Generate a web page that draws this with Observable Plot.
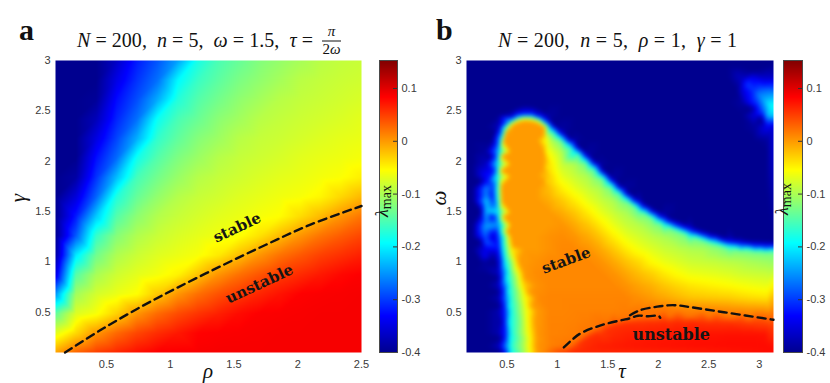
<!DOCTYPE html>
<html><head><meta charset="utf-8">
<script src="https://cdn.jsdelivr.net/npm/d3@7"></script>
<script src="https://cdn.jsdelivr.net/npm/@observablehq/plot@0.6"></script>
<style>
html,body{margin:0;padding:0;background:#fff;}
#chart{position:relative;width:830px;height:383px;overflow:hidden;background:#fff;}
</style></head><body><div id="chart"></div>
<script>
// ---------- data ----------
const rhoTicks = [0.5, 1, 1.5, 2, 2.5];
const gammaTicks = [0.5, 1, 1.5, 2, 2.5, 3];
const tauTicks = [0.5, 1, 1.5, 2, 2.5, 3];
const omegaTicks = [0.5, 1, 1.5, 2, 2.5, 3];
const cbTicks = [-0.4, -0.3, -0.2, -0.1, 0, 0.1];
const cbRange = [-0.4, 0.153];
const rhoRange = [0.1, 2.5];
const gammaRange = [0.1, 3];
const tauRange = [0.1, Math.PI];
const omegaRange = [0.1, 3];

// panel a: lambda_max read on a 16x16 lattice spanning the axes; rows gamma 3 -> 0.1, columns rho 0.1 -> 2.5
const lambdaA = [
  [-0.40,-0.40,-0.40,-0.366,-0.317,-0.285,-0.243,-0.179,-0.152,-0.137,-0.122,-0.112,-0.102,-0.092,-0.087,-0.084],
  [-0.40,-0.40,-0.40,-0.346,-0.304,-0.270,-0.196,-0.161,-0.142,-0.126,-0.114,-0.103,-0.092,-0.087,-0.083,-0.080],
  [-0.40,-0.40,-0.394,-0.326,-0.289,-0.238,-0.174,-0.147,-0.130,-0.115,-0.104,-0.093,-0.087,-0.083,-0.079,-0.075],
  [-0.40,-0.40,-0.374,-0.312,-0.270,-0.188,-0.153,-0.135,-0.117,-0.105,-0.093,-0.087,-0.082,-0.078,-0.074,-0.069],
  [-0.40,-0.40,-0.349,-0.294,-0.236,-0.166,-0.140,-0.120,-0.107,-0.093,-0.086,-0.082,-0.077,-0.072,-0.068,-0.065],
  [-0.40,-0.40,-0.324,-0.273,-0.184,-0.147,-0.124,-0.108,-0.094,-0.086,-0.081,-0.076,-0.070,-0.066,-0.063,-0.059],
  [-0.40,-0.387,-0.304,-0.228,-0.155,-0.130,-0.110,-0.094,-0.086,-0.080,-0.074,-0.069,-0.065,-0.060,-0.056,-0.046],
  [-0.40,-0.353,-0.276,-0.175,-0.137,-0.113,-0.095,-0.085,-0.079,-0.072,-0.067,-0.062,-0.058,-0.050,-0.033,-0.016],
  [-0.40,-0.318,-0.221,-0.147,-0.116,-0.096,-0.085,-0.077,-0.070,-0.065,-0.059,-0.054,-0.036,-0.017,0.003,0.020],
  [-0.40,-0.283,-0.164,-0.120,-0.097,-0.084,-0.075,-0.068,-0.062,-0.056,-0.039,-0.018,0.003,0.021,0.034,0.046],
  [-0.39,-0.204,-0.131,-0.098,-0.083,-0.072,-0.065,-0.058,-0.043,-0.020,0.003,0.022,0.036,0.049,0.058,0.067],
  [-0.35,-0.146,-0.101,-0.081,-0.069,-0.060,-0.048,-0.022,0.004,0.023,0.038,0.052,0.061,0.071,0.080,0.085],
  [-0.25,-0.105,-0.078,-0.065,-0.054,-0.025,0.003,0.024,0.040,0.053,0.064,0.074,0.084,0.086,0.087,0.088],
  [-0.14,-0.073,-0.058,-0.030,0.003,0.026,0.043,0.056,0.067,0.078,0.085,0.086,0.087,0.088,0.088,0.088],
  [-0.07,-0.034,0.002,0.027,0.046,0.060,0.071,0.083,0.085,0.086,0.087,0.088,0.088,0.088,0.088,0.088],
  [-0.005,0.029,0.050,0.063,0.076,0.085,0.086,0.087,0.088,0.088,0.088,0.088,0.088,0.088,0.088,0.088]
];

// panel b: lambda_max on a 24x24 grid of cell centres; rows omega 3 -> 0.1, columns tau 0.1 -> pi
const lambdaB = [
  [-.40,-.40,-.40,-.40,-.40,-.40,-.40,-.40,-.40,-.40,-.40,-.40,-.40,-.40,-.40,-.40,-.40,-.40,-.40,-.40,-.40,-.40,-.40,-.40],
  [-.40,-.40,-.40,-.40,-.40,-.40,-.40,-.40,-.40,-.40,-.40,-.40,-.40,-.40,-.40,-.40,-.40,-.40,-.40,-.40,-.40,-.37,-.34,-.36],
  [-.40,-.40,-.40,-.40,-.40,-.40,-.40,-.40,-.40,-.40,-.40,-.40,-.40,-.40,-.40,-.40,-.40,-.40,-.40,-.40,-.40,-.36,-.30,-.27],
  [-.40,-.40,-.40,-.40,-.40,-.40,-.40,-.40,-.40,-.40,-.40,-.40,-.40,-.40,-.40,-.40,-.40,-.40,-.40,-.40,-.40,-.39,-.31,-.21],
  [-.40,-.40,-.40,-.37,-.28,-.35,-.39,-.40,-.40,-.40,-.40,-.40,-.40,-.40,-.40,-.40,-.40,-.40,-.40,-.40,-.40,-.40,-.35,-.23],
  [-.40,-.40,-.37,-.01,.00,.00,-.22,-.39,-.40,-.40,-.40,-.40,-.40,-.40,-.40,-.40,-.40,-.40,-.40,-.40,-.40,-.40,-.39,-.34],
  [-.40,-.40,-.27,.00,.00,.00,-.09,-.22,-.39,-.40,-.40,-.40,-.40,-.40,-.40,-.40,-.40,-.40,-.40,-.40,-.40,-.40,-.40,-.39],
  [-.40,-.39,-.23,.00,.00,.00,-.06,-.10,-.20,-.39,-.40,-.40,-.40,-.40,-.40,-.40,-.40,-.40,-.40,-.40,-.40,-.40,-.40,-.40],
  [-.40,-.37,-.19,.00,.00,.00,-.04,-.086,-.10,-.19,-.39,-.40,-.40,-.40,-.40,-.40,-.40,-.40,-.40,-.40,-.40,-.40,-.40,-.40],
  [-.40,-.33,-.165,.00,.00,.00,-.03,-.068,-.085,-.10,-.19,-.39,-.40,-.40,-.40,-.40,-.40,-.40,-.40,-.40,-.40,-.40,-.40,-.40],
  [-.40,-.26,-.15,.00,.00,.00,-.02,-.047,-.067,-.084,-.10,-.19,-.39,-.40,-.40,-.40,-.40,-.40,-.40,-.40,-.40,-.40,-.40,-.40],
  [-.40,-.22,-.17,.00,.00,.00,-.01,-.026,-.045,-.066,-.084,-.10,-.18,-.37,-.40,-.40,-.40,-.40,-.40,-.40,-.40,-.40,-.40,-.40],
  [-.40,-.23,-.20,.00,.00,.00,.00,-.01,-.025,-.044,-.066,-.084,-.10,-.14,-.31,-.39,-.40,-.40,-.40,-.40,-.40,-.40,-.40,-.40],
  [-.40,-.25,-.25,.00,.00,.00,.00,.003,-.009,-.024,-.044,-.066,-.084,-.095,-.115,-.19,-.32,-.38,-.40,-.40,-.40,-.40,-.40,-.40],
  [-.40,-.28,-.30,.00,.00,.00,.005,.008,.003,-.008,-.024,-.045,-.065,-.078,-.09,-.10,-.115,-.17,-.25,-.34,-.38,-.40,-.40,-.40],
  [-.40,-.34,-.33,-.05,.00,.00,.005,.01,.01,.004,-.008,-.025,-.044,-.06,-.072,-.083,-.09,-.097,-.10,-.115,-.15,-.21,-.23,-.25],
  [-.40,-.39,-.36,-.11,.00,.005,.01,.01,.01,.01,.004,-.008,-.023,-.036,-.054,-.066,-.074,-.082,-.085,-.088,-.093,-.097,-.103,-.108],
  [-.40,-.40,-.37,-.14,.00,.008,.01,.01,.01,.01,.01,.004,-.007,-.019,-.03,-.044,-.055,-.064,-.067,-.07,-.074,-.08,-.083,-.085],
  [-.40,-.40,-.37,-.16,-.03,.005,.01,.01,.01,.01,.01,.01,.004,-.005,-.013,-.024,-.033,-.041,-.045,-.049,-.053,-.058,-.062,-.065],
  [-.40,-.40,-.38,-.17,-.064,.008,.012,.012,.012,.012,.012,.012,.012,.006,.00,-.007,-.015,-.022,-.024,-.026,-.028,-.033,-.037,-.04],
  [-.40,-.40,-.38,-.18,-.08,.00,.012,.012,.013,.013,.013,.013,.015,.018,.02,.02,.015,.012,.012,.01,.008,.006,.005,.004],
  [-.40,-.40,-.38,-.18,-.085,.00,.013,.013,.014,.016,.02,.035,.05,.055,.058,.06,.062,.063,.058,.057,.055,.052,.048,.045],
  [-.40,-.40,-.38,-.18,-.09,.002,.013,.014,.016,.035,.055,.062,.066,.068,.07,.071,.072,.073,.074,.074,.075,.075,.075,.074],
  [-.40,-.40,-.37,-.17,-.095,.003,.013,.018,.045,.062,.068,.07,.072,.073,.074,.075,.076,.077,.078,.078,.079,.079,.079,.078]
];

// panel b: extra readings [tau, omega, lambda] along sharp features
const rimB = [
  [0.95,2.39,-.40],[0.95,2.345,-.33],[0.95,2.31,-.21],[0.95,2.275,-.13],
  [1.03,2.32,-.40],[1.03,2.275,-.33],[1.03,2.24,-.21],[1.03,2.205,-.13],
  [1.12,2.24,-.40],[1.12,2.195,-.33],[1.12,2.16,-.21],[1.12,2.125,-.13],
  [1.20,2.17,-.40],[1.20,2.125,-.33],[1.20,2.09,-.21],[1.20,2.055,-.13],
  [1.28,2.095,-.40],[1.28,2.05,-.33],[1.28,2.015,-.21],[1.28,1.98,-.13],
  [1.36,2.02,-.40],[1.36,1.975,-.33],[1.36,1.94,-.21],[1.36,1.905,-.13],
  [1.44,1.94,-.40],[1.44,1.895,-.33],[1.44,1.86,-.21],[1.44,1.825,-.13],
  [1.53,1.855,-.40],[1.53,1.81,-.33],[1.53,1.775,-.21],[1.53,1.74,-.13],
  [1.61,1.78,-.40],[1.61,1.735,-.33],[1.61,1.70,-.21],[1.61,1.665,-.13],
  [1.69,1.71,-.40],[1.69,1.665,-.33],[1.69,1.63,-.21],[1.69,1.595,-.13],
  [1.77,1.65,-.40],[1.77,1.605,-.33],[1.77,1.57,-.21],[1.77,1.535,-.13],
  [1.86,1.59,-.40],[1.86,1.545,-.33],[1.86,1.51,-.21],[1.86,1.475,-.13],
  [1.94,1.54,-.40],[1.94,1.495,-.33],[1.94,1.46,-.21],[1.94,1.425,-.13],
  [2.02,1.49,-.40],[2.02,1.445,-.33],[2.02,1.41,-.21],[2.02,1.375,-.13],
  [2.10,1.45,-.40],[2.10,1.405,-.33],[2.10,1.37,-.21],[2.10,1.335,-.13],
  [2.19,1.41,-.40],[2.19,1.365,-.33],[2.19,1.33,-.21],[2.19,1.295,-.13],
  [2.27,1.38,-.40],[2.27,1.335,-.33],[2.27,1.30,-.21],[2.27,1.265,-.13],
  [2.35,1.35,-.40],[2.35,1.305,-.33],[2.35,1.27,-.21],[2.35,1.235,-.13],
  [2.44,1.32,-.40],[2.44,1.275,-.33],[2.44,1.24,-.21],[2.44,1.205,-.13],
  [2.52,1.29,-.40],[2.52,1.245,-.33],[2.52,1.21,-.21],[2.52,1.175,-.13],
  [2.60,1.27,-.40],[2.60,1.225,-.33],[2.60,1.19,-.21],[2.60,1.155,-.13],
  [2.68,1.245,-.40],[2.68,1.20,-.33],[2.68,1.165,-.21],[2.68,1.13,-.13],
  [2.77,1.235,-.40],[2.77,1.19,-.33],[2.77,1.155,-.21],[2.77,1.12,-.13],
  [2.85,1.225,-.40],[2.85,1.18,-.33],[2.85,1.145,-.21],[2.85,1.11,-.13],
  [2.93,1.215,-.40],[2.93,1.17,-.33],[2.93,1.135,-.21],[2.93,1.10,-.13],
  [3.01,1.21,-.40],[3.01,1.165,-.33],[3.01,1.13,-.21],[3.01,1.095,-.13],
  [3.10,1.205,-.40],[3.10,1.16,-.33],[3.10,1.125,-.21],[3.10,1.09,-.13],
  [3.14,1.205,-.40],[3.14,1.16,-.33],[3.14,1.125,-.21],[3.14,1.09,-.13]
];
const domeB = [
  [0.55,2.50,-.40],[0.55,2.435,-.33],[0.55,2.40,-.21],[0.55,2.37,-.06],[0.55,2.34,0],
  [0.60,2.53,-.40],[0.60,2.465,-.33],[0.60,2.43,-.21],[0.60,2.40,-.06],[0.60,2.37,0],
  [0.67,2.55,-.40],[0.67,2.485,-.33],[0.67,2.45,-.21],[0.67,2.42,-.06],[0.67,2.39,0],
  [0.75,2.545,-.40],[0.75,2.48,-.33],[0.75,2.445,-.21],[0.75,2.415,-.06],[0.75,2.385,0],
  [0.82,2.52,-.40],[0.82,2.455,-.33],[0.82,2.42,-.21],[0.82,2.39,-.06],[0.82,2.36,0],
  [0.87,2.485,-.40],[0.87,2.42,-.33],[0.87,2.385,-.21],[0.87,2.355,-.06],[0.87,2.325,0],
  [0.86,2.25,0],[0.895,2.25,-.09],[0.86,2.10,0],[0.895,2.10,-.055],
  [0.86,1.95,0],[0.895,1.95,-.045],[0.86,1.80,0],[0.895,1.80,-.035]
];
const flankB = [
  [0.38,2.30,-.40],[0.43,2.30,-.32],[0.47,2.30,-.20],[0.485,2.30,-.11],[0.50,2.30,0],
  [0.35,2.20,-.40],[0.40,2.20,-.32],[0.44,2.20,-.20],[0.455,2.20,-.11],[0.47,2.20,0],
  [0.33,2.05,-.40],[0.38,2.05,-.32],[0.42,2.05,-.20],[0.438,2.05,-.11],[0.455,2.05,0],
  [0.37,1.90,-.32],[0.41,1.90,-.20],[0.43,1.90,-.11],[0.45,1.90,0],
  [0.365,1.75,-.30],[0.405,1.75,-.20],[0.428,1.75,-.11],[0.45,1.75,0],
  [0.37,1.60,-.30],[0.41,1.60,-.20],[0.433,1.60,-.11],[0.455,1.60,0],
  [0.38,1.45,-.30],[0.42,1.45,-.20],[0.445,1.45,-.11],[0.47,1.45,0],
  [0.40,1.30,-.32],[0.44,1.30,-.20],[0.47,1.30,-.11],[0.50,1.30,0],
  [0.42,1.15,-.32],[0.46,1.15,-.20],[0.51,1.15,-.11],[0.56,1.15,0],
  [0.39,1.00,-.40],[0.44,1.00,-.32],[0.48,1.00,-.20],[0.55,1.00,-.11],[0.62,1.00,0],
  [0.405,0.85,-.40],[0.455,0.85,-.32],[0.495,0.85,-.20],[0.583,0.85,-.11],[0.67,0.85,0],
  [0.415,0.70,-.40],[0.465,0.70,-.32],[0.505,0.70,-.20],[0.613,0.70,-.11],[0.72,0.70,0],
  [0.425,0.55,-.40],[0.475,0.55,-.32],[0.515,0.55,-.20],[0.635,0.55,-.11],[0.755,0.55,0],
  [0.43,0.40,-.40],[0.48,0.40,-.32],[0.52,0.40,-.20],[0.65,0.40,-.11],[0.78,0.40,0],
  [0.435,0.25,-.40],[0.485,0.25,-.32],[0.525,0.25,-.20],[0.66,0.25,-.11],[0.795,0.25,0],
  [0.44,0.10,-.40],[0.49,0.10,-.32],[0.53,0.10,-.20],[0.665,0.10,-.11],[0.80,0.10,0]
];
const spikeB = [
  [0.30,1.80,-.33],[0.30,1.65,-.25],[0.30,1.50,-.22],[0.29,1.35,-.24],[0.29,1.20,-.28],[0.285,1.05,-.34],[0.28,0.95,-.39],
  [0.235,1.80,-.40],[0.235,1.50,-.40],[0.235,1.20,-.40],[0.235,1.00,-.40],
  [0.355,1.65,-.33],[0.355,1.45,-.33],[0.36,1.25,-.36],[0.365,1.05,-.39]
];
const cornerB = [
  [3.14,2.55,-.19],[3.14,2.45,-.22],[3.14,2.65,-.24],[3.12,2.55,-.19],[3.06,2.60,-.23],[3.05,2.50,-.27],
  [3.02,2.72,-.29],[2.98,2.67,-.27],[2.97,2.58,-.31],[2.90,2.80,-.32],[2.88,2.76,-.30],[2.80,2.84,-.37],
  [2.92,2.52,-.40],[3.02,2.42,-.40],[3.14,2.35,-.35],[2.78,2.70,-.40],[2.95,2.90,-.40],[3.14,2.84,-.37]
];
const redEdgeB = [
  [1.08,0.15,.02],[1.08,0.09,.058],[1.2,0.23,.02],[1.2,0.17,.058],[1.3,0.30,.02],[1.3,0.24,.058],
  [1.4,0.35,.02],[1.4,0.29,.058],[1.5,0.39,.02],[1.5,0.33,.058],[1.6,0.425,.02],[1.6,0.365,.058],
  [1.7,0.445,.02],[1.7,0.385,.058],[1.8,0.455,.02],[1.8,0.395,.058],[1.95,0.46,.02],[1.95,0.40,.058],
  [2.1,0.46,.02],[2.1,0.40,.058],[2.3,0.46,.02],[2.3,0.40,.058],[2.5,0.455,.02],[2.5,0.395,.058],
  [2.7,0.45,.02],[2.7,0.39,.058],[2.9,0.44,.02],[2.9,0.38,.055],[3.1,0.43,.02],[3.1,0.37,.05]
];

// stability boundaries (dashed)
const dashA = [
  {rho: 0.175, gamma: 0.1}, {rho: 0.45, gamma: 0.32}, {rho: 0.75, gamma: 0.54}, {rho: 1.05, gamma: 0.74},
  {rho: 1.4, gamma: 0.96}, {rho: 1.75, gamma: 1.17}, {rho: 2.1, gamma: 1.37}, {rho: 2.5, gamma: 1.555}
];
const dashB = [
  {branch: 1, tau: 1.064, omega: 0.15}, {branch: 1, tau: 1.15, omega: 0.23}, {branch: 1, tau: 1.23, omega: 0.29},
  {branch: 1, tau: 1.43, omega: 0.37}, {branch: 1, tau: 1.63, omega: 0.42}, {branch: 1, tau: 1.72, omega: 0.44},
  {branch: 1, tau: 1.8, omega: 0.465}, {branch: 1, tau: 1.9, omega: 0.46}, {branch: 1, tau: 2.0, omega: 0.465},
  {branch: 1, tau: 2.02, omega: 0.445},
  {branch: 2, tau: 1.72, omega: 0.47}, {branch: 2, tau: 1.82, omega: 0.52}, {branch: 2, tau: 1.99, omega: 0.555},
  {branch: 2, tau: 2.155, omega: 0.57}, {branch: 2, tau: 2.32, omega: 0.55}, {branch: 2, tau: 2.65, omega: 0.5},
  {branch: 2, tau: 3.1416, omega: 0.425}
];
const labelsA = [
  {label: "stable", rho: 1.525, gamma: 1.34},
  {label: "unstable", rho: 1.70, gamma: 0.78}
];
const labelsB = [
  {label: "stable", tau: 1.088, omega: 1.014},
  {label: "unstable", tau: 2.129, omega: 0.276}
];

// ---------- helpers ----------
const fmt = d => String(d);
function latticeSamples(grid, xr, yr) {
  const h = grid.length;
  return grid.flatMap((row, j) => row.map((v, i) => ({
    x: xr[0] + i * (xr[1] - xr[0]) / (row.length - 1),
    y: yr[1] - j * (yr[1] - yr[0]) / (h - 1),
    v
  })));
}
function cellSamples(grid, xr, yr) {
  const h = grid.length;
  return grid.flatMap((row, j) => row.map((v, i) => ({
    x: xr[0] + (i + 0.5) * (xr[1] - xr[0]) / row.length,
    y: yr[1] - (j + 0.5) * (yr[1] - yr[0]) / h,
    v
  })));
}
const tripleSamples = list => list.map(([x, y, v]) => ({x, y, v}));
const samplesA = latticeSamples(lambdaA, rhoRange, gammaRange);
const samplesB = cellSamples(lambdaB, tauRange, omegaRange)
  .concat(tripleSamples(rimB), tripleSamples(domeB), tripleSamples(flankB),
          tripleSamples(spikeB), tripleSamples(cornerB), tripleSamples(redEdgeB));

// ---------- styling ----------
const jetT = [0, 0.125, 0.375, 0.625, 0.875, 1];
const jetColors = ["#00008f", "#0000ff", "#00ffff", "#ffff00", "#ff0000", "#800000"];
const colorScale = {
  type: "linear",
  domain: jetT.map(t => cbRange[0] + t * (cbRange[1] - cbRange[0])),
  range: jetColors, interpolate: "rgb", clamp: true
};
const baseStyle = {
  position: "absolute", left: "0px", top: "0px", background: "transparent", overflow: "visible",
  fontFamily: "'Liberation Sans', Arial, sans-serif", fontSize: "11px", color: "#3a3a3a"
};
const chart = document.getElementById("chart");
const W = 830, H = 383, MT = 60, MB = 31;
const labelFont = {fontFamily: "'DejaVu Serif', serif", fontWeight: "bold", fontSize: 15, fill: "#151515"};

// panel a
chart.append(Plot.plot({
  width: W, height: H, marginLeft: 55, marginRight: W - 361, marginTop: MT, marginBottom: MB,
  style: baseStyle,
  x: {domain: rhoRange},
  y: {domain: gammaRange},
  color: colorScale,
  marks: [
    Plot.raster(samplesA, {x: "x", y: "y", fill: "v", x1: rhoRange[0], x2: rhoRange[1], y1: gammaRange[0], y2: gammaRange[1],
      interpolate: "barycentric", pixelSize: 1}),
    Plot.line(dashA, {x: "rho", y: "gamma", curve: "catmull-rom", stroke: "#111", strokeWidth: 2.4, strokeDasharray: "8,5"}),
    Plot.text(labelsA, {x: "rho", y: "gamma", text: "label", rotate: -25, ...labelFont}),
    Plot.axisX(rhoTicks, {tickSize: 0, tickPadding: 8, tickFormat: fmt, label: null}),
    Plot.axisY(gammaTicks, {tickSize: 0, tickPadding: 5, tickFormat: fmt, label: null})
  ]
}));

// panel b
chart.append(Plot.plot({
  width: W, height: H, marginLeft: 466, marginRight: W - 773, marginTop: MT, marginBottom: MB,
  style: baseStyle,
  x: {domain: tauRange},
  y: {domain: omegaRange},
  color: colorScale,
  marks: [
    Plot.raster(samplesB, {x: "x", y: "y", fill: "v", x1: tauRange[0], x2: tauRange[1], y1: omegaRange[0], y2: omegaRange[1],
      interpolate: "barycentric", pixelSize: 1, blur: 1.5}),
    Plot.line(dashB, {x: "tau", y: "omega", z: "branch", curve: "catmull-rom", stroke: "#111", strokeWidth: 2.4, strokeDasharray: "8,5"}),
    Plot.text(labelsB.filter(d => d.label === "stable"), {x: "tau", y: "omega", text: "label", rotate: -20, ...labelFont}),
    Plot.text(labelsB.filter(d => d.label === "unstable"), {x: "tau", y: "omega", text: "label", ...labelFont, fontSize: 16}),
    Plot.axisX(tauTicks, {tickSize: 0, tickPadding: 8, tickFormat: fmt, label: null}),
    Plot.axisY(omegaTicks, {tickSize: 0, tickPadding: 5, tickFormat: fmt, label: null})
  ]
}));

// colorbars
function colorbar(left, right) {
  return Plot.plot({
    width: W, height: H, marginLeft: left, marginRight: W - right, marginTop: MT, marginBottom: MB,
    style: baseStyle,
    x: {domain: [0, 1], axis: null},
    y: {domain: cbRange},
    color: colorScale,
    marks: [
      Plot.raster({fill: (x, y) => y, x1: 0, x2: 1, y1: cbRange[0], y2: cbRange[1]}),
      Plot.tickY(cbTicks, {y: d => d, stroke: "#333", insetLeft: right - left - 4}),
      Plot.frame({stroke: "#4a4a4a"}),
      Plot.axisY(cbTicks, {anchor: "right", tickSize: 0, tickPadding: 4, tickFormat: fmt, label: null})
    ]
  });
}
chart.append(colorbar(379, 397));
chart.append(colorbar(783, 802));

// ---------- text overlay ----------
const ov = d3.select(chart).append("svg").attr("width", W).attr("height", H)
  .style("position", "absolute").style("left", "0px").style("top", "0px").style("overflow", "visible");
const serif = "'Liberation Serif', 'DejaVu Serif', serif";

function panelLetter(x, s) {
  ov.append("text").attr("x", x).attr("y", 40).attr("font-family", serif).attr("font-weight", "bold")
    .attr("font-size", 30).attr("fill", "#111").text(s);
}
panelLetter(19, "a");
panelLetter(436, "b");

function title(x, len, parts) {
  const t = ov.append("text").attr("x", x).attr("y", 47).attr("font-family", serif).attr("font-size", 20)
    .attr("fill", "#111").style("white-space", "pre").attr("textLength", len).attr("lengthAdjust", "spacing");
  parts.forEach(([s, it]) => t.append("tspan").attr("font-style", it ? "italic" : "normal").text(s));
}
title(77, 241, [["N", 1], [" = 200,  ", 0], ["n", 1], [" = 5,  ", 0], ["ω", 1], [" = 1.5,  ", 0], ["τ", 1], [" = ", 0]]);
title(498, 239, [["N", 1], [" = 200,  ", 0], ["n", 1], [" = 5,  ", 0], ["ρ", 1], [" = 1,  ", 0], ["γ", 1], [" = 1", 0]]);
ov.append("text").attr("x", 331.5).attr("y", 36).attr("text-anchor", "middle").attr("font-family", serif)
  .attr("font-size", 15).attr("font-style", "italic").attr("fill", "#111").text("π");
ov.append("line").attr("x1", 322).attr("x2", 341).attr("y1", 41).attr("y2", 41).attr("stroke", "#111").attr("stroke-width", 1);
const den = ov.append("text").attr("x", 331.5).attr("y", 54).attr("text-anchor", "middle").attr("font-family", serif)
  .attr("font-size", 15).attr("fill", "#111");
den.append("tspan").text("2");
den.append("tspan").attr("font-style", "italic").text("ω");

function axisLabel(x, y, s, rot) {
  ov.append("text").attr("transform", `translate(${x},${y}) rotate(${rot})`).attr("text-anchor", "middle")
    .attr("font-family", serif).attr("font-style", "italic").attr("font-size", 21).attr("fill", "#111").text(s);
}
axisLabel(208, 378, "ρ", 0);
axisLabel(25, 198, "γ", -90);
axisLabel(622, 378, "τ", 0);
axisLabel(446, 198, "ω", -90);

function cbLabel(x, y) {
  const t = ov.append("text").attr("transform", `translate(${x},${y}) rotate(-90)`).attr("text-anchor", "middle")
    .attr("font-family", serif).attr("font-size", 18).attr("fill", "#111");
  t.append("tspan").attr("font-style", "italic").text("λ");
  t.append("tspan").attr("font-size", 14).attr("dy", 3).text("max");
}
cbLabel(388, 201);
cbLabel(788, 199);
</script></body></html>
